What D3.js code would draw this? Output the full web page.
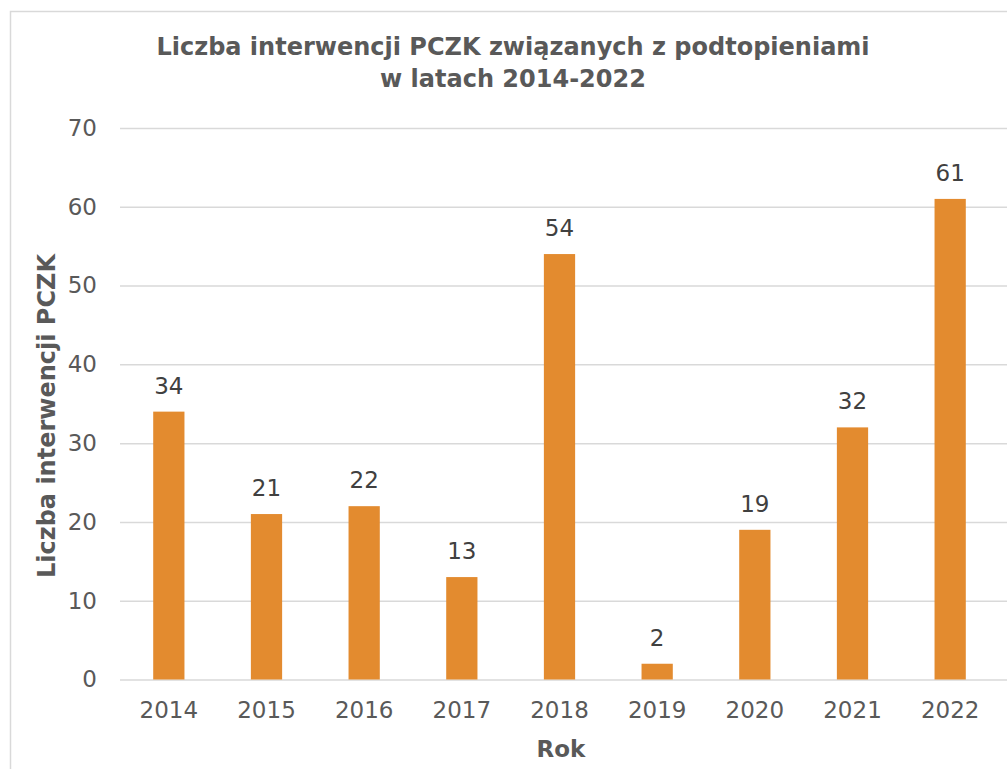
<!DOCTYPE html>
<html><head><meta charset="utf-8">
<script src="https://cdn.jsdelivr.net/npm/d3@7"></script>
<style>body{margin:0;background:#fff;} svg{display:block;}</style>
</head><body>
<script>
const categories = ["2014","2015","2016","2017","2018","2019","2020","2021","2022"];
const values = [34, 21, 22, 13, 54, 2, 19, 32, 61];
const yTicks = [0, 10, 20, 30, 40, 50, 60, 70];
const titleLines = ["Liczba interwencji PCZK związanych z podtopieniami", "w latach 2014-2022"];
const xTitle = "Rok";
const yTitle = "Liczba interwencji PCZK";

const W = 1007, H = 769;
const font = "'DejaVu Sans', Verdana, sans-serif";
const svg = d3.select("body").append("svg").attr("width", W).attr("height", H);

svg.append("rect").attr("x", 10.5).attr("y", 11.5).attr("width", W + 20).attr("height", H + 20)
  .attr("fill", "#fff").attr("stroke", "#D9D9D9").attr("stroke-width", 1.5);

const plot = {left: 120, right: 999, top: 128, bottom: 679.5};
const x = d3.scaleBand().domain(categories).range([plot.left, plot.right]).paddingInner(0.68).paddingOuter(0.34);
const y = d3.scaleLinear().domain([0, 70]).range([plot.bottom, plot.top]);

// gridlines
const grid = svg.append("g").call(d3.axisLeft(y).tickValues(yTicks).tickSize(-(1007 - plot.left)).tickFormat(""))
  .attr("transform", `translate(${plot.left},0)`);
grid.select(".domain").remove();
grid.selectAll("line").attr("stroke", "#D9D9D9").attr("stroke-width", 1.5);

// y axis labels
const ya = svg.append("g").attr("transform", `translate(${plot.left},0)`)
  .call(d3.axisLeft(y).tickValues(yTicks).tickSize(0).tickPadding(23));
ya.select(".domain").remove();
ya.selectAll("text").attr("font-family", font).attr("font-size", 23).attr("fill", "#595959");

// x axis labels
const xa = svg.append("g").attr("transform", `translate(0,${plot.bottom})`)
  .call(d3.axisBottom(x).tickSize(0).tickPadding(22));
xa.select(".domain").remove();
xa.selectAll("text").attr("font-family", font).attr("font-size", 23).attr("fill", "#595959");

// bars
svg.append("g").selectAll("rect").data(values).join("rect")
  .attr("x", (d, i) => x(categories[i]))
  .attr("width", x.bandwidth())
  .attr("y", d => y(d))
  .attr("height", d => y(0) - y(d))
  .attr("fill", "#E38B2F");

// data labels
svg.append("g").selectAll("text").data(values).join("text")
  .attr("x", (d, i) => x(categories[i]) + x.bandwidth() / 2)
  .attr("y", d => y(d) - 18)
  .attr("text-anchor", "middle")
  .attr("font-family", font).attr("font-size", 23).attr("fill", "#404040")
  .text(d => d);

// title
svg.append("g").selectAll("text").data(titleLines).join("text")
  .attr("x", 513).attr("y", (d, i) => 55 + i * 32)
  .attr("text-anchor", "middle")
  .attr("font-family", font).attr("font-size", 24).attr("font-weight", "bold").attr("fill", "#595959")
  .text(d => d);

// axis titles
svg.append("text").attr("x", 561).attr("y", 757).attr("text-anchor", "middle")
  .attr("font-family", font).attr("font-size", 23).attr("font-weight", "bold").attr("fill", "#595959")
  .text(xTitle);
svg.append("text").attr("transform", "translate(55,416) rotate(-90)").attr("text-anchor", "middle")
  .attr("font-family", font).attr("font-size", 24).attr("font-weight", "bold").attr("fill", "#595959")
  .text(yTitle);
</script>
</body></html>
